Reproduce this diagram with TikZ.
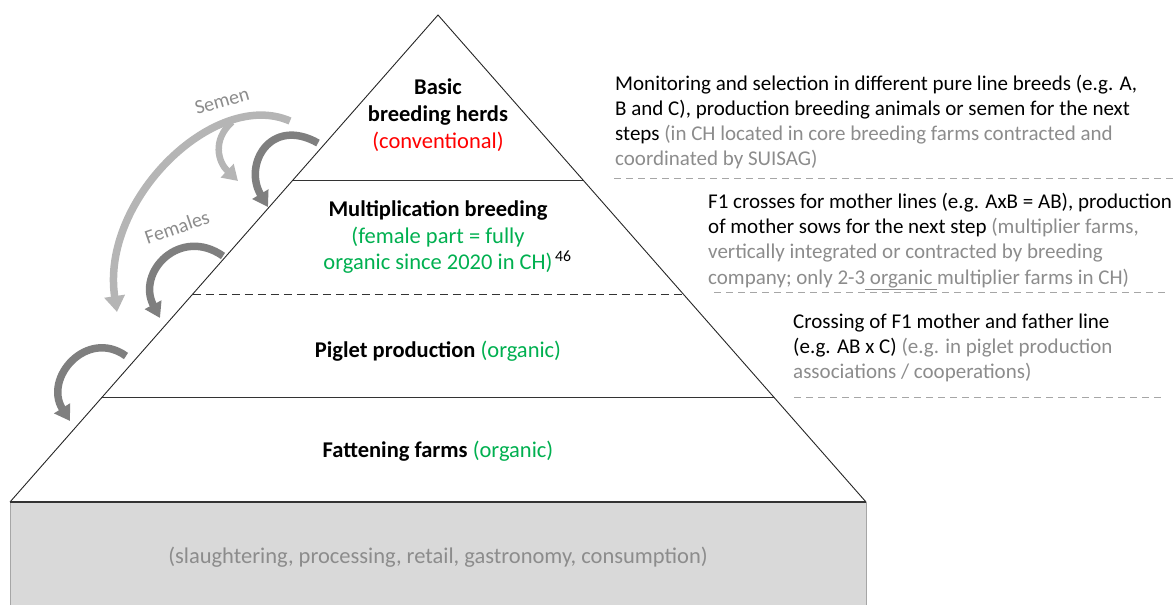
\documentclass[tikz,border=0pt]{standalone}
\usepackage{fontspec}
\setmainfont{Carlito}
\usetikzlibrary{arrows.meta,calc}
\definecolor{txtgray}{HTML}{8C8C8C}
\definecolor{orggreen}{HTML}{00B050}
\definecolor{convred}{HTML}{FF0000}
\definecolor{boxgray}{HTML}{D9D9D9}
\definecolor{boxedge}{HTML}{A6A6A6}
\definecolor{arrdark}{HTML}{7F7F7F}
\definecolor{arrlight}{HTML}{B5B5B5}
\definecolor{dashgray}{HTML}{A6A6A6}
\tikzset{
  txt/.style={font=\fontsize{21}{25}\selectfont, inner sep=0pt},
  ptxt/.style={font=\fontsize{22.5}{27}\selectfont, inner sep=0pt, anchor=base},
  lbl/.style={txt, anchor=base west},
  pyr/.style={draw=black!85, line width=0.9pt},
  sepline/.style={draw=black!80, line width=0.9pt},
  sepdash/.style={draw=black!80, line width=0.9pt, dash pattern=on 8pt off 5pt},
  notedash/.style={draw=dashgray, line width=0.9pt, dash pattern=on 7pt off 5pt},
  darkarrow/.style={draw=arrdark, line width=7.5pt, -{Triangle[width=18pt,length=15pt]}},
  lightarrow/.style={draw=arrlight, line width=7.5pt, -{Triangle[width=20pt,length=16pt]}},
}
\begin{document}
\begin{tikzpicture}[x=1pt,y=-1pt]
\useasboundingbox (0,0) rectangle (1175,605);

% pyramid corners
\coordinate (T) at (438,15);
\coordinate (L) at (10,502);
\coordinate (R) at (866,502);

% bottom box
\coordinate (BL) at (10,605);
\coordinate (BR) at (866,605);
\fill[boxgray] (L) rectangle (BR);
\draw[boxedge, line width=0.8pt] (L) -- (BL) (R) -- (BR);

% flow arrows (drawn first, pyramid edge on top)
\coordinate (s0) at (290,121);
\coordinate (s1) at (117,312);
\draw[lightarrow] (s0) .. controls (215,88) and (100,200) .. (s1);
\coordinate (sb0) at (232,122);
\coordinate (sb1) at (238,181);
\draw[lightarrow, line width=6.5pt, -{Triangle[width=18pt,length=15pt]}] (sb0) .. controls (212,140) and (218,162) .. (sb1);
\node[font=\fontsize{20}{24}\selectfont, inner sep=0pt, text=txtgray, rotate=16] (semen) at (222,101) {Semen};

\coordinate (a10) at (318,143);
\coordinate (a11) at (268,207);
\draw[darkarrow] (a10) .. controls (270,116) and (243,165) .. (a11);

\node[font=\fontsize{20}{24}\selectfont, inner sep=0pt, text=txtgray, rotate=19] (fem) at (177,227) {Females};
\coordinate (a20) at (223,256);
\coordinate (a21) at (160,318);
\draw[darkarrow] (a20) .. controls (180,226) and (136,272) .. (a21);

\coordinate (a30) at (126,356);
\coordinate (a31) at (70,421);
\draw[darkarrow] (a30) .. controls (87,328) and (43,378) .. (a31);

% pyramid outline
\fill[white] (L) -- (T) -- (R) -- cycle;
\draw[pyr] (L) -- (T) -- (R);
\draw[black!80, line width=2pt] (L) -- (R);

% level lines
\coordinate (l1) at ($(T)!{165/487}!(L)$);
\coordinate (r1) at ($(T)!{165/487}!(R)$);
\coordinate (l2) at ($(T)!{279/487}!(L)$);
\coordinate (r2) at ($(T)!{279/487}!(R)$);
\coordinate (l3) at ($(T)!{382/487}!(L)$);
\coordinate (r3) at ($(T)!{382/487}!(R)$);
\draw[sepline] (l1) -- (r1);
\draw[sepdash] (l2) -- (r2);
\draw[sepline] (l3) -- (r3);

% pyramid texts
\node[ptxt, font=\fontsize{22.5}{27}\selectfont\bfseries] (b1) at (438,94) {Basic};
\node[ptxt, font=\fontsize{22.5}{27}\selectfont\bfseries] (b2) at (438,121) {breeding herds};
\node[ptxt, text=convred] (b3) at (438,148) {(conventional)};

\node[ptxt, font=\fontsize{22.5}{27}\selectfont\bfseries] (m1) at (438,216) {Multiplication breeding};
\node[ptxt, text=orggreen] (m2) at (438,243) {(female part = fully};
\node[ptxt, text=orggreen] (m3) at (438,269) {organic since 2020 in CH)\rlap{\textcolor{black}{\textsuperscript{\,46}}}};

\node[ptxt] (p1) at (438,357) {\textbf{Piglet production} \textcolor{orggreen}{(organic)}};
\node[ptxt] (f1) at (438,457) {\textbf{Fattening farms} \textcolor{orggreen}{(organic)}};

\node[ptxt, text=txtgray] (g1) at (438,563) {(slaughtering, processing, retail, gastronomy, consumption)};

% right notes
\node[lbl] (n11) at (615,90) {Monitoring and selection in different pure line breeds (e.g. A,};
\node[lbl] (n12) at (615,115) {B and C), production breeding animals or semen for the next};
\node[lbl] (n13) at (615,140) {steps \textcolor{txtgray}{(in CH located in core breeding farms contracted and}};
\node[lbl, text=txtgray] (n14) at (615,165) {coordinated by SUISAG)};

\node[lbl] (n21) at (708,208) {F1 crosses for mother lines (e.g. AxB = AB), production};
\node[lbl] (n22) at (708,233) {of mother sows for the next step \textcolor{txtgray}{(multiplier farms,}};
\node[lbl, text=txtgray] (n23) at (708,258) {vertically integrated or contracted by breeding};
\node[lbl, text=txtgray] (n24) at (708,284) {company; only 2-3\underline{\ organic\ }multiplier farms in CH)};

\node[lbl] (n31) at (793,328) {Crossing of F1 mother and father line};
\node[lbl] (n32) at (793,353) {(e.g. AB x C) \textcolor{txtgray}{(e.g. in piglet production}};
\node[lbl, text=txtgray] (n33) at (793,378) {associations / cooperations)};

% dashed note separators
\coordinate (d1a) at (614,178);
\coordinate (d1b) at (1175,178);
\coordinate (d2a) at (714,292);
\coordinate (d2b) at (1165,292);
\coordinate (d3a) at (794,397);
\coordinate (d3b) at (1165,397);
\draw[notedash] (d1a) -- (d1b);
\draw[notedash] (d2a) -- (d2b);
\draw[notedash] (d3a) -- (d3b);
\end{tikzpicture}
\end{document}
